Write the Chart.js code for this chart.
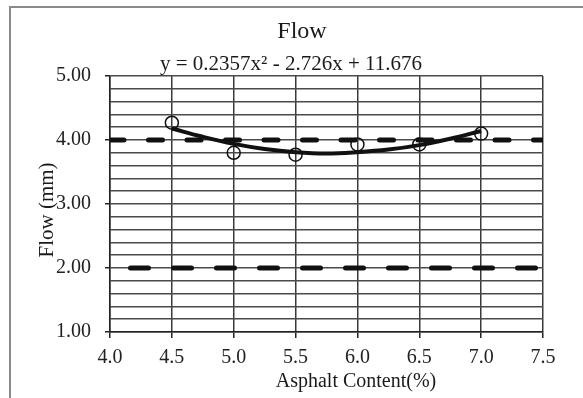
<!DOCTYPE html>
<html>
<head>
<meta charset="utf-8">
<script src="https://cdn.jsdelivr.net/npm/chart.js@4"></script>
<style>
  html, body { margin: 0; padding: 0; background: #fff; }
  #wrap { width: 583px; height: 398px; }
</style>
</head>
<body>
<div id="wrap"><canvas id="flowChart" width="583" height="398"></canvas></div>
<script>
  // measured points
  const asphaltContent = [4.5, 5.0, 5.5, 6.0, 6.5, 7.0];
  const flowValues = [4.27, 3.80, 3.77, 3.93, 3.93, 4.10];

  const trendX = [4.5, 4.75, 5.0, 5.25, 5.5, 5.75, 6.0, 6.25, 6.5, 6.75, 7.0];
  const trendY = [4.18, 4.05, 3.94, 3.86, 3.81, 3.79, 3.81, 3.85, 3.92, 4.02, 4.14];

  // spec limits
  const limitX = [4.0, 7.5];
  const upperLimit = [4.0, 4.0];
  const lowerLimit = [2.0, 2.0];

  const titleText = 'Flow';
  const equationText = 'y = 0.2357x² - 2.726x + 11.676';
  const xTitle = 'Asphalt Content(%)';
  const yTitle = 'Flow (mm)';

  const serif = '"Liberation Serif", "Times New Roman", serif';

  const toXY = (xs, ys) => xs.map((x, i) => ({ x: x, y: ys[i] }));
  const isMajor = (v) => Math.abs(v - Math.round(v)) < 1e-6;

  // frame + titles drawn on the canvas
  const textPlugin = {
    id: 'frameText',
    beforeDraw(chart) {
      const c = chart.ctx;
      c.save();
      c.fillStyle = '#fff';
      c.fillRect(0, 0, chart.width, chart.height);
      c.strokeStyle = '#8a8a8a';
      c.lineWidth = 2;
      c.strokeRect(10, 7, 700, 500);
      c.restore();
    },
    afterDraw(chart) {
      const c = chart.ctx;
      c.save();
      c.fillStyle = '#1a1a1a';
      c.textAlign = 'center';
      c.textBaseline = 'alphabetic';
      c.font = '24px ' + serif;
      c.fillText(titleText, 302, 38);
      c.font = '21px ' + serif;
      c.fillText(equationText, 291, 70);
      c.font = '20px ' + serif;
      c.fillText(xTitle, 356, 387);
      c.translate(53, 210);
      c.rotate(-Math.PI / 2);
      c.font = '21px ' + serif;
      c.fillText(yTitle, 0, 0);
      c.restore();
    }
  };

  const ctx = document.getElementById('flowChart').getContext('2d');

  let chart = new Chart(ctx, {
    type: 'scatter',
    data: {
      datasets: [
        {
          label: 'Flow',
          data: toXY(asphaltContent, flowValues),
          showLine: false,
          pointRadius: 6.5,
          pointHoverRadius: 6.5,
          pointBorderWidth: 1.5,
          pointBorderColor: '#111',
          pointBackgroundColor: 'rgba(0,0,0,0)',
        },
        {
          label: 'Trend',
          data: toXY(trendX, trendY),
          showLine: true,
          borderColor: '#111',
          borderWidth: 4,
          pointRadius: 0,
          tension: 0.4,
        },
        {
          label: 'Upper',
          data: toXY(limitX, upperLimit),
          showLine: true,
          borderColor: '#111',
          borderWidth: 5,
          borderCapStyle: 'round',
          borderDash: [14, 24.5],
          pointRadius: 0,
        },
        {
          label: 'Lower',
          data: toXY(limitX, lowerLimit),
          showLine: true,
          borderColor: '#111',
          borderWidth: 5,
          borderCapStyle: 'round',
          borderDash: [18, 25],
          borderDashOffset: 22.5,
          pointRadius: 0,
        },
      ],
    },
    plugins: [textPlugin],
    options: {
      responsive: false,
      animation: false,
      layout: { padding: { left: 0, right: 40, top: 76, bottom: 0 } },
      plugins: {
        legend: { display: false },
        tooltip: { enabled: false },
      },
      scales: {
        x: {
          type: 'linear',
          min: 4.0,
          max: 7.5,
          afterFit(scale) { scale.height = 66; },
          ticks: {
            stepSize: 0.5,
            autoSkip: false,
            maxRotation: 0,
            padding: 8,
            color: '#222',
            font: { family: serif, size: 20 },
            callback: (v) => Number(v).toFixed(1),
          },
          grid: { color: '#3a3a3a', lineWidth: 1.5, tickLength: 6, tickColor: '#222' },
          border: { color: '#222', width: 1.5 },
        },
        y: {
          min: 1.0,
          max: 5.0,
          afterFit(scale) { scale.width = 110; },
          ticks: {
            stepSize: 0.2,
            autoSkip: false,
            padding: 14,
            color: '#222',
            font: { family: serif, size: 20 },
            callback: (v) => (isMajor(v) ? Number(v).toFixed(2) : ''),
          },
          grid: {
            color: '#4a4a4a',
            lineWidth: 1.5,
            tickLength: 5,
            tickColor: (c) => (c.tick && isMajor(c.tick.value) ? '#222' : 'rgba(0,0,0,0)'),
          },
          border: { color: '#222', width: 1.5 },
        },
      },
    },
  });
</script>
</body>
</html>
